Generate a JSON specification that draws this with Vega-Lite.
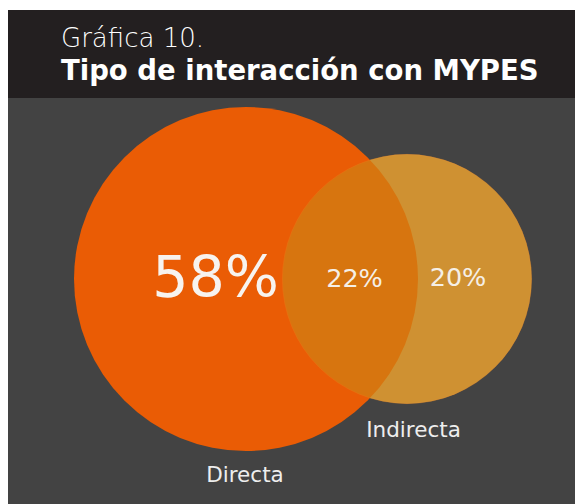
{
  "$schema": "https://vega.github.io/schema/vega-lite/v6.json",
  "width": 575,
  "height": 504,
  "autosize": {"type": "none"},
  "padding": 0,
  "background": "#ffffff",
  "config": {"view": {"stroke": null}},
  "datasets": {
    "panels": [
      {"part": "header", "x0": 8, "x1": 575, "y0": 10, "y1": 98},
      {"part": "body", "x0": 8, "x1": 575, "y0": 98, "y1": 504}
    ],
    "sets": [
      {"set": "Directa", "total": 80, "cx": 246, "cy": 279},
      {"set": "Indirecta", "total": 42, "cx": 407, "cy": 279}
    ],
    "labels": [
      {"kind": "big", "label": "58%", "x": 215.5, "y": 297},
      {"kind": "mid", "label": "22%", "x": 354.5, "y": 287},
      {"kind": "mid", "label": "20%", "x": 458, "y": 286},
      {"kind": "name", "label": "Indirecta", "x": 413.5, "y": 437},
      {"kind": "name", "label": "Directa", "x": 245, "y": 482},
      {"kind": "sub", "label": "Gráfica 10.", "x": 61, "y": 47},
      {"kind": "title", "label": "Tipo de interacción con MYPES", "x": 61, "y": 80}
    ]
  },
  "layer": [
    {
      "data": {"name": "panels"},
      "mark": {"type": "rect"},
      "encoding": {
        "x": {"field": "x0", "type": "quantitative", "scale": {"domain": [0, 575], "range": [0, 575]}, "axis": null},
        "x2": {"field": "x1"},
        "y": {"field": "y0", "type": "quantitative", "scale": {"domain": [0, 504], "range": [0, 504]}, "axis": null},
        "y2": {"field": "y1"},
        "color": {"field": "part", "type": "nominal", "scale": {"domain": ["header", "body"], "range": ["#231f20", "#434343"]}, "legend": null}
      }
    },
    {
      "data": {"name": "sets"},
      "transform": [{"filter": "datum.set === 'Indirecta'"}],
      "mark": {"type": "point", "shape": "circle", "filled": true, "opacity": 1, "color": "#da964c", "strokeWidth": 0},
      "encoding": {
        "x": {"field": "cx", "type": "quantitative", "scale": {"domain": [0, 575], "range": [0, 575]}, "axis": null},
        "y": {"field": "cy", "type": "quantitative", "scale": {"domain": [0, 504], "range": [0, 504]}, "axis": null},
        "size": {"field": "total", "type": "quantitative", "scale": {"type": "linear", "domain": [0, 80], "range": [0, 118336], "zero": true}, "legend": null}
      }
    },
    {
      "data": {"name": "sets"},
      "transform": [{"filter": "datum.set === 'Directa'"}],
      "mark": {"type": "point", "shape": "circle", "filled": true, "opacity": 1, "color": "#ea5c05", "strokeWidth": 0},
      "encoding": {
        "x": {"field": "cx", "type": "quantitative", "scale": {"domain": [0, 575], "range": [0, 575]}, "axis": null},
        "y": {"field": "cy", "type": "quantitative", "scale": {"domain": [0, 504], "range": [0, 504]}, "axis": null},
        "size": {"field": "total", "type": "quantitative", "scale": {"type": "linear", "domain": [0, 80], "range": [0, 118336], "zero": true}, "legend": null}
      }
    },
    {
      "data": {"name": "sets"},
      "transform": [{"filter": "datum.set === 'Indirecta'"}],
      "mark": {"type": "point", "shape": "circle", "filled": true, "opacity": 0.5, "color": "#c68e1a", "stroke": "#f08a20", "strokeWidth": 1, "strokeOpacity": 0.5},
      "encoding": {
        "x": {"field": "cx", "type": "quantitative", "scale": {"domain": [0, 575], "range": [0, 575]}, "axis": null},
        "y": {"field": "cy", "type": "quantitative", "scale": {"domain": [0, 504], "range": [0, 504]}, "axis": null},
        "size": {"field": "total", "type": "quantitative", "scale": {"type": "linear", "domain": [0, 80], "range": [0, 118336], "zero": true}, "legend": null}
      }
    },
    {
      "data": {"name": "labels"},
      "transform": [{"filter": "datum.kind === 'big'"}],
      "mark": {"type": "text", "align": "center", "baseline": "alphabetic", "font": "DejaVu Sans", "fontSize": 57, "fontWeight": "normal", "color": "#f7f3ef"},
      "encoding": {
        "x": {"field": "x", "type": "quantitative", "scale": {"domain": [0, 575], "range": [0, 575]}, "axis": null},
        "y": {"field": "y", "type": "quantitative", "scale": {"domain": [0, 504], "range": [0, 504]}, "axis": null},
        "text": {"field": "label"}
      }
    },
    {
      "data": {"name": "labels"},
      "transform": [{"filter": "datum.kind === 'mid'"}],
      "mark": {"type": "text", "align": "center", "baseline": "alphabetic", "font": "DejaVu Sans", "fontSize": 25.5, "fontWeight": "normal", "color": "#f5efe6"},
      "encoding": {
        "x": {"field": "x", "type": "quantitative", "scale": {"domain": [0, 575], "range": [0, 575]}, "axis": null},
        "y": {"field": "y", "type": "quantitative", "scale": {"domain": [0, 504], "range": [0, 504]}, "axis": null},
        "text": {"field": "label"}
      }
    },
    {
      "data": {"name": "labels"},
      "transform": [{"filter": "datum.kind === 'name'"}],
      "mark": {"type": "text", "align": "center", "baseline": "alphabetic", "font": "DejaVu Sans", "fontSize": 21.5, "fontWeight": "normal", "color": "#eeeeee"},
      "encoding": {
        "x": {"field": "x", "type": "quantitative", "scale": {"domain": [0, 575], "range": [0, 575]}, "axis": null},
        "y": {"field": "y", "type": "quantitative", "scale": {"domain": [0, 504], "range": [0, 504]}, "axis": null},
        "text": {"field": "label"}
      }
    },
    {
      "data": {"name": "labels"},
      "transform": [{"filter": "datum.kind === 'sub'"}],
      "mark": {"type": "text", "align": "left", "baseline": "alphabetic", "font": "DejaVu Sans", "fontSize": 26, "fontWeight": 200, "color": "#ffffff"},
      "encoding": {
        "x": {"field": "x", "type": "quantitative", "scale": {"domain": [0, 575], "range": [0, 575]}, "axis": null},
        "y": {"field": "y", "type": "quantitative", "scale": {"domain": [0, 504], "range": [0, 504]}, "axis": null},
        "text": {"field": "label"}
      }
    },
    {
      "data": {"name": "labels"},
      "transform": [{"filter": "datum.kind === 'title'"}],
      "mark": {"type": "text", "align": "left", "baseline": "alphabetic", "font": "DejaVu Sans", "fontSize": 27.5, "fontWeight": "bold", "color": "#ffffff"},
      "encoding": {
        "x": {"field": "x", "type": "quantitative", "scale": {"domain": [0, 575], "range": [0, 575]}, "axis": null},
        "y": {"field": "y", "type": "quantitative", "scale": {"domain": [0, 504], "range": [0, 504]}, "axis": null},
        "text": {"field": "label"}
      }
    }
  ]
}
